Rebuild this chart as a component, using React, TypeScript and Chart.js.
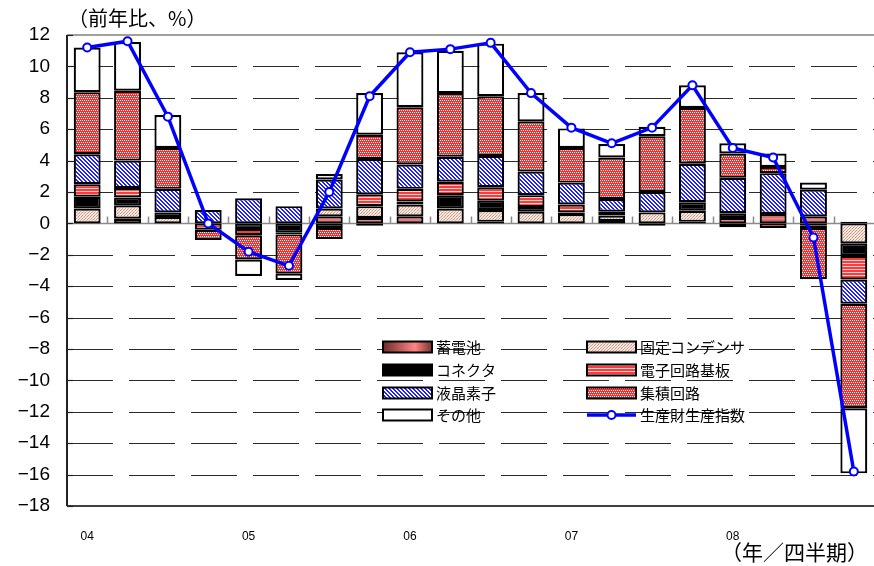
import React, { useEffect, useRef } from 'react';
import { Chart, registerables } from 'chart.js';

Chart.register(...registerables);

// 2004Q1 .. 2008Q4
const categories = ['04', '', '', '', '05', '', '', '', '06', '', '', '', '07', '', '', '', '08', '', '', ''];
const yTickValues = [12, 10, 8, 6, 4, 2, 0, -2, -4, -6, -8, -10, -12, -14, -16, -18];

const battery = [0, 0.3, 0, 0, 0, 0, 0.45, 0.35, 0.45, 0, 0.1, 0, 0, 0.15, 0, 0.1, 0.35, 0.6, 0.45, 0.1];
const fixedCapacitor = [0.95, 0.85, 0.4, 0, 0, 0, 0.5, 0.75, 0.75, 0.95, 0.75, 0.75, 0.6, 0.35, 0.7, 0.7, 0, 0, -0.15, -1.27];
const connector = [0.75, 0.5, 0.3, 0, -0.35, -0.6, -0.3, -0.15, 0.2, 0.85, 0.6, 0.3, 0.1, 0, 0, 0.55, 0.3, 0, -0.15, -0.8];
const circuitBoard = [0.8, 0.6, 0, -0.4, -0.4, -0.1, 0, 0.75, 0.8, 0.85, 0.85, 0.75, 0.5, 0.25, -0.15, 0, -0.25, -0.3, 0, -1.5];
const lcd = [1.9, 1.75, 1.5, 0.85, 1.6, 1.1, 1.85, 2.25, 1.55, 1.6, 2.0, 1.5, 1.4, 0.8, 1.3, 2.45, 2.25, 2.6, 1.7, -1.55];
const integratedCircuit = [3.95, 4.45, 2.6, -0.65, -1.55, -2.5, -0.7, 1.55, 3.65, 4.05, 3.8, 3.2, 2.2, 2.65, 3.55, 3.55, 1.55, 0.4, -3.25, -6.65];
const others = [2.85, 3.1, 2.1, 0, -1.05, -0.4, 0.35, 2.65, 3.5, 2.7, 3.35, 1.8, 1.25, 0.85, 0.6, 1.45, 0.65, 0.85, 0.45, -4.15];
const productionIndex = [11.2, 11.6, 6.8, 0.0, -1.8, -2.7, 2.0, 8.1, 10.9, 11.1, 11.5, 8.3, 6.1, 5.1, 6.1, 8.8, 4.8, 4.2, -0.9, -15.8];

const LABEL_BATTERY = '蓄電池';
const LABEL_FIXED = '固定コンデンサ';
const LABEL_CONNECTOR = 'コネクタ';
const LABEL_BOARD = '電子回路基板';
const LABEL_LCD = '液晶素子';
const LABEL_IC = '集積回路';
const LABEL_OTHERS = 'その他';
const LABEL_INDEX = '生産財生産指数';
const Y_TITLE = '（前年比、%）';
const X_TITLE = '（年／四半期）';

const CJK = "'Noto Sans CJK JP', sans-serif";
const LATIN = "'Liberation Sans', Arial, sans-serif";

const CANVAS_W = 880;
const CANVAS_H = 566;

function makePattern(w: number, h: number, draw: (c: CanvasRenderingContext2D) => void): CanvasPattern {
  const c = document.createElement('canvas');
  c.width = w;
  c.height = h;
  const x = c.getContext('2d')!;
  draw(x);
  return x.createPattern(c, 'repeat')!;
}

function px(c: CanvasRenderingContext2D, x: number, y: number, col: string) {
  c.fillStyle = col;
  c.fillRect(x, y, 1, 1);
}

export default function App() {
  const ref = useRef<HTMLCanvasElement | null>(null);

  useEffect(() => {
    const canvas = ref.current;
    if (!canvas) return;

    const icPattern = makePattern(4, 4, (c) => {
      c.fillStyle = '#ff2a2a';
      c.fillRect(0, 0, 4, 4);
      px(c, 0, 0, '#ffffff');
      px(c, 2, 0, '#ffffff');
      px(c, 1, 2, '#ffffff');
      px(c, 3, 2, '#ffffff');
    });
    const lcdPattern = makePattern(4, 4, (c) => {
      c.fillStyle = '#ffffff';
      c.fillRect(0, 0, 4, 4);
      for (let y = 0; y < 4; y++) {
        for (let x = 0; x < 4; x++) {
          const d = (((x - y) % 4) + 4) % 4;
          if (d === 0 || d === 1) px(c, x, y, '#2020ff');
        }
      }
    });
    const boardPattern = makePattern(1, 3, (c) => {
      c.fillStyle = '#ff3a3a';
      c.fillRect(0, 0, 1, 2);
      px(c, 0, 2, '#ffd0d0');
    });
    const fixedPattern = makePattern(3, 3, (c) => {
      c.fillStyle = '#f4e4da';
      c.fillRect(0, 0, 3, 3);
      px(c, 0, 0, '#c89c8c');
      px(c, 2, 1, '#d8b8a8');
      px(c, 1, 2, '#c89c8c');
    });

    const batteryFill = (ctx: any) => {
      const chart = ctx.chart;
      if (ctx.type !== 'data' || !chart.chartArea) return '#b05050';
      const ys = chart.scales.y;
      const v = ctx.raw as number;
      const y0 = ys.getPixelForValue(0);
      const y1 = ys.getPixelForValue(v);
      if (Math.abs(y1 - y0) < 1) return '#7a3030';
      const g = chart.ctx.createLinearGradient(0, y0, 0, y1);
      g.addColorStop(0, '#7a3030');
      g.addColorStop(0.5, '#ff8585');
      g.addColorStop(1, '#7a3030');
      return g;
    };

    const frame = {
      id: 'frame',
      beforeDatasetsDraw(chart: any) {
        const { ctx, chartArea: a, scales } = chart;
        const x = scales.x;
        const y = scales.y;
        ctx.save();
        // dashed grid lines
        ctx.strokeStyle = '#2a2a2a';
        ctx.lineWidth = 1.2;
        ctx.setLineDash([46, 16]);
        for (const v of yTickValues) {
          if (v === 12 || v === 0 || v === -18) continue;
          const py = Math.round(y.getPixelForValue(v)) + 0.5;
          ctx.beginPath();
          ctx.moveTo(a.left, py);
          ctx.lineTo(a.right, py);
          ctx.stroke();
        }
        ctx.setLineDash([]);
        // top border
        ctx.strokeStyle = '#a0a0a0';
        ctx.lineWidth = 2;
        let py = y.getPixelForValue(12);
        ctx.beginPath();
        ctx.moveTo(a.left, py);
        ctx.lineTo(a.right, py);
        ctx.stroke();
        // bottom line
        ctx.strokeStyle = '#404040';
        py = y.getPixelForValue(-18);
        ctx.beginPath();
        ctx.moveTo(a.left, py);
        ctx.lineTo(a.right, py);
        ctx.stroke();
        // zero line with category ticks
        ctx.strokeStyle = '#8a8a8a';
        ctx.lineWidth = 1.5;
        const zy = Math.round(y.getPixelForValue(0)) + 0.5;
        ctx.beginPath();
        ctx.moveTo(a.left, zy);
        ctx.lineTo(a.right, zy);
        ctx.stroke();
        const n = categories.length;
        for (let i = 1; i < n; i++) {
          const bx = Math.round((x.getPixelForValue(i - 1) + x.getPixelForValue(i)) / 2) + 0.5;
          ctx.beginPath();
          ctx.moveTo(bx, zy);
          ctx.lineTo(bx, zy - 7);
          ctx.stroke();
        }
        // left axis with inward ticks
        ctx.strokeStyle = '#222222';
        ctx.lineWidth = 2;
        ctx.beginPath();
        ctx.moveTo(a.left, y.getPixelForValue(12));
        ctx.lineTo(a.left, y.getPixelForValue(-18));
        ctx.stroke();
        ctx.lineWidth = 1.2;
        for (const v of yTickValues) {
          const ty = Math.round(y.getPixelForValue(v)) + 0.5;
          ctx.beginPath();
          ctx.moveTo(a.left, ty);
          ctx.lineTo(a.left + 6, ty);
          ctx.stroke();
        }
        ctx.restore();
      },
      afterDraw(chart: any) {
        const { ctx } = chart;
        ctx.save();
        // axis titles
        ctx.fillStyle = '#000';
        ctx.textBaseline = 'middle';
        ctx.textAlign = 'left';
        ctx.font = `20px ${CJK}`;
        ctx.fillText(Y_TITLE, 68, 18);
        ctx.textAlign = 'right';
        ctx.font = `21px ${CJK}`;
        ctx.fillText(X_TITLE, 868, 552);

        // legend
        const rows = [347, 370, 393, 415];
        const sw = 49;
        const sh = 11;
        const swatch = (x0: number, yc: number, fill: any) => {
          const y0 = yc - sh / 2;
          ctx.fillStyle = fill;
          ctx.fillRect(x0, y0, sw, sh);
          ctx.lineWidth = 2;
          ctx.strokeStyle = '#000';
          ctx.strokeRect(x0, y0, sw, sh);
        };
        const text = (x0: number, yc: number, t: string) => {
          ctx.fillStyle = '#000';
          ctx.font = `15px ${CJK}`;
          ctx.textAlign = 'left';
          ctx.textBaseline = 'middle';
          ctx.fillText(t, x0, yc);
        };
        const lx = 383;
        const rx = 587;
        const bg = ctx.createLinearGradient(lx, 0, lx + sw, 0);
        bg.addColorStop(0, '#6e2a2a');
        bg.addColorStop(0.65, '#ff8585');
        bg.addColorStop(1, '#7a3030');
        swatch(lx, rows[0], bg);
        text(lx + sw + 4, rows[0], LABEL_BATTERY);
        swatch(lx, rows[1], '#000');
        text(lx + sw + 4, rows[1], LABEL_CONNECTOR);
        swatch(lx, rows[2], lcdPattern);
        text(lx + sw + 4, rows[2], LABEL_LCD);
        swatch(lx, rows[3], '#fff');
        text(lx + sw + 4, rows[3], LABEL_OTHERS);

        swatch(rx, rows[0], fixedPattern);
        text(rx + sw + 4, rows[0], LABEL_FIXED);
        swatch(rx, rows[1], boardPattern);
        text(rx + sw + 4, rows[1], LABEL_BOARD);
        swatch(rx, rows[2], icPattern);
        text(rx + sw + 4, rows[2], LABEL_IC);
        ctx.strokeStyle = '#0000ff';
        ctx.lineWidth = 3.5;
        ctx.beginPath();
        ctx.moveTo(rx, rows[3]);
        ctx.lineTo(rx + sw, rows[3]);
        ctx.stroke();
        ctx.beginPath();
        ctx.arc(rx + sw / 2, rows[3], 4, 0, Math.PI * 2);
        ctx.fillStyle = '#fff';
        ctx.fill();
        ctx.lineWidth = 2;
        ctx.stroke();
        text(rx + sw + 4, rows[3], LABEL_INDEX);
        ctx.restore();
      },
    };

    const barCommon = {
      type: 'bar' as const,
      stack: 'bars',
      order: 1,
      borderColor: '#000',
      borderWidth: 2.2,
      borderSkipped: false,
      barPercentage: 0.667,
      categoryPercentage: 1,
    };

    const chart = new Chart(canvas, {
      type: 'bar',
      data: {
        labels: categories,
        datasets: [
          { ...barCommon, label: LABEL_BATTERY, data: battery, backgroundColor: batteryFill },
          { ...barCommon, label: LABEL_FIXED, data: fixedCapacitor, backgroundColor: fixedPattern },
          { ...barCommon, label: LABEL_CONNECTOR, data: connector, backgroundColor: '#000' },
          { ...barCommon, label: LABEL_BOARD, data: circuitBoard, backgroundColor: boardPattern },
          { ...barCommon, label: LABEL_LCD, data: lcd, backgroundColor: lcdPattern },
          { ...barCommon, label: LABEL_IC, data: integratedCircuit, backgroundColor: icPattern },
          { ...barCommon, label: LABEL_OTHERS, data: others, backgroundColor: '#fff' },
          {
            type: 'line' as const,
            label: LABEL_INDEX,
            data: productionIndex,
            stack: 'line',
            order: 0,
            borderColor: '#0000ff',
            borderWidth: 3.5,
            tension: 0,
            pointRadius: 4,
            pointBorderWidth: 2,
            pointBackgroundColor: '#fff',
            pointBorderColor: '#0000ff',
          } as any,
        ],
      },
      options: {
        responsive: false,
        animation: false,
        layout: { padding: { top: 35, right: CANVAS_W - 877, left: 0, bottom: 0 } },
        plugins: {
          legend: { display: false },
          tooltip: { enabled: false },
          title: { display: false },
        },
        scales: {
          x: {
            stacked: true,
            grid: { display: false },
            border: { display: false },
            ticks: {
              autoSkip: false,
              maxRotation: 0,
              color: '#000',
              padding: 15,
              font: { size: 12, family: LATIN },
            },
            afterFit: (s: any) => {
              s.height = CANVAS_H - 506;
            },
          },
          y: {
            stacked: true,
            min: -18,
            max: 12,
            grid: { display: false },
            border: { display: false },
            ticks: {
              stepSize: 2,
              color: '#000',
              padding: 9,
              font: { size: 19, family: LATIN },
              callback: (v: any) => (Number(v) < 0 ? '\u2212' + Math.abs(Number(v)) : String(v)),
            },
            afterFit: (s: any) => {
              s.width = 67;
            },
          },
        },
      },
      plugins: [frame],
    } as any);

    return () => {
      chart.destroy();
    };
  }, []);

  return (
    <div
      style={{
        position: 'absolute',
        left: 0,
        top: 0,
        width: 874,
        height: CANVAS_H,
        overflow: 'hidden',
        background: '#fff',
      }}
    >
      <canvas ref={ref} width={CANVAS_W} height={CANVAS_H} style={{ display: 'block', width: CANVAS_W, height: CANVAS_H }} />
    </div>
  );
}
